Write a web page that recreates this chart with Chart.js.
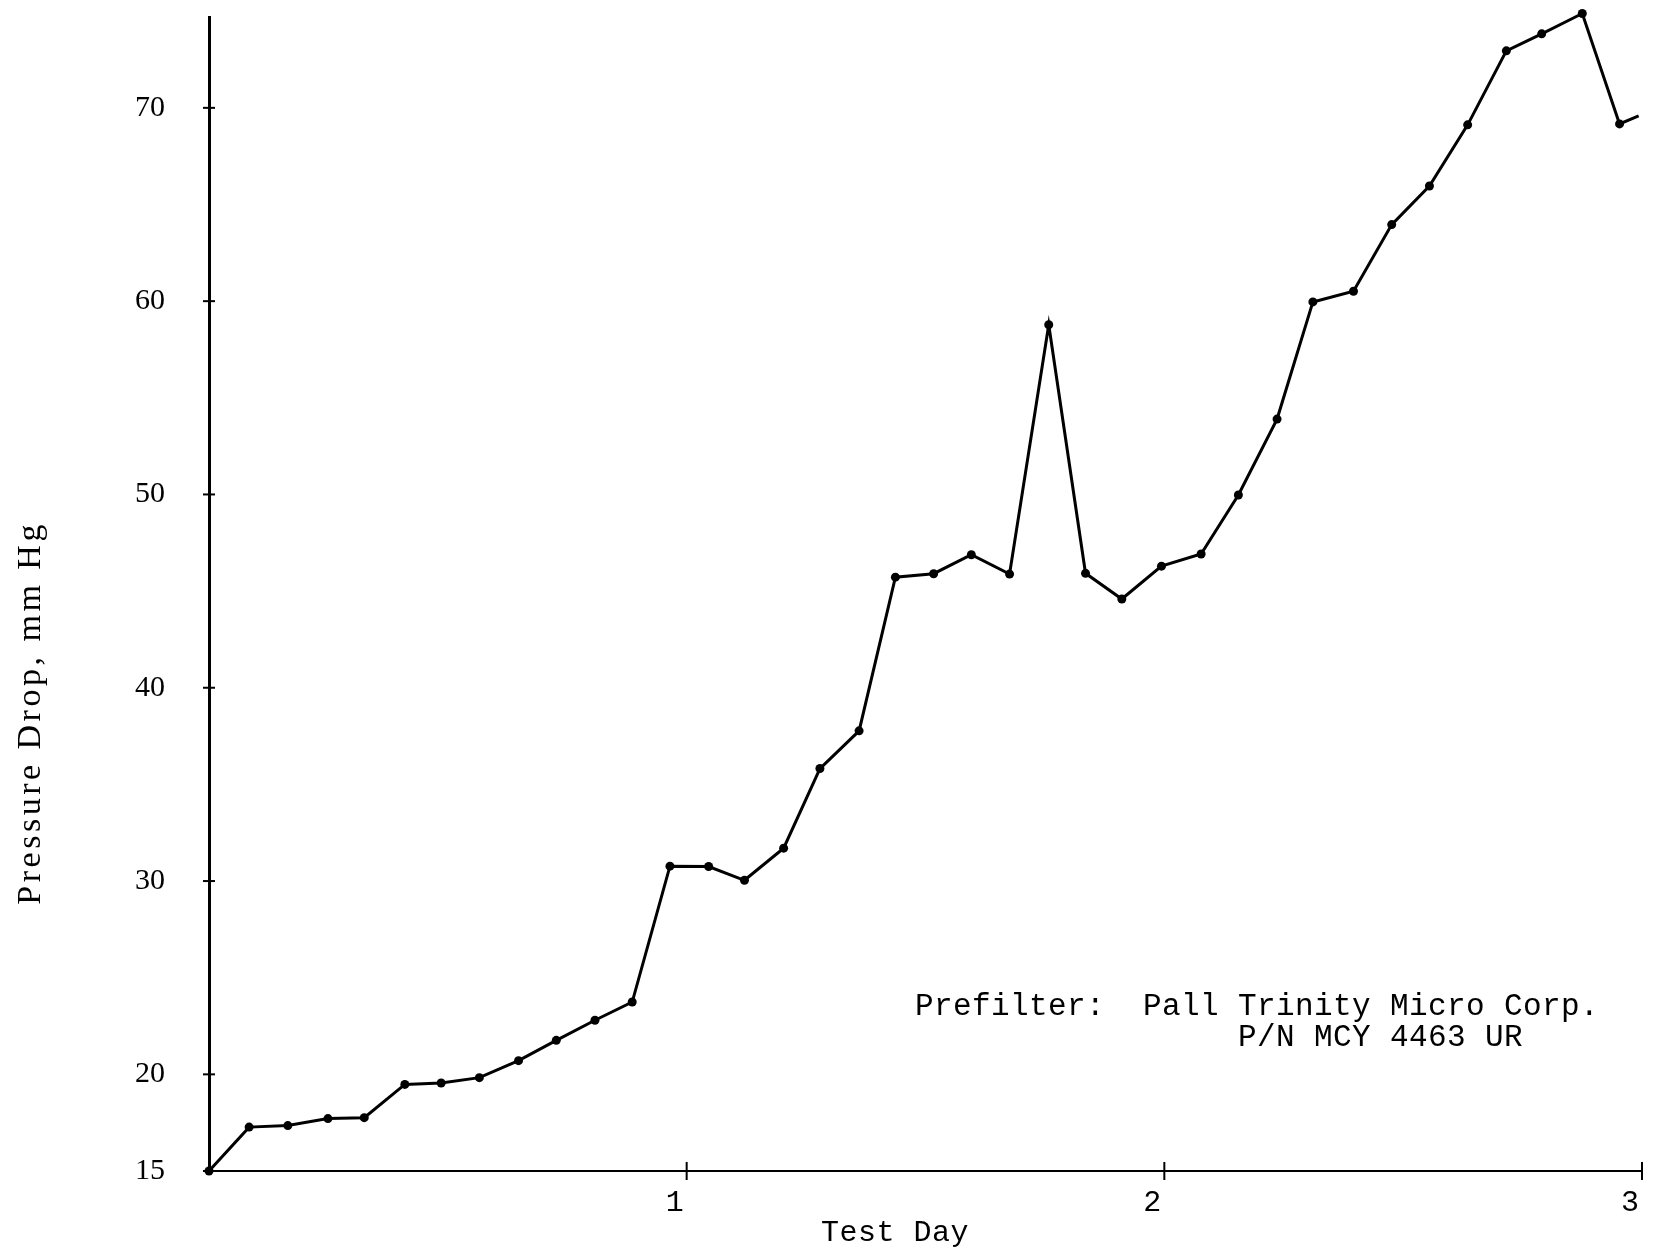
<!DOCTYPE html>
<html>
<head>
<meta charset="utf-8">
<script src="https://cdn.jsdelivr.net/npm/chart.js@4.4.0/dist/chart.umd.min.js"></script>
<style>
  html, body { margin: 0; padding: 0; background: #fff; }
  #wrap { width: 1655px; height: 1250px; }
</style>
</head>
<body>
<div id="wrap"><canvas id="c" width="1655" height="1250"></canvas></div>
<script>
// ---- data ----
const testDay = [0.000, 0.084, 0.165, 0.249, 0.325, 0.410, 0.486, 0.566, 0.648, 0.727,
                 0.808, 0.886, 0.965, 1.046, 1.121, 1.203, 1.279, 1.361, 1.437, 1.517,
                 1.596, 1.676, 1.758, 1.835, 1.911, 1.994, 2.077, 2.155, 2.236, 2.311,
                 2.396, 2.476, 2.555, 2.635, 2.716, 2.790, 2.875, 2.953, 2.993];
const pressureDrop = [15.00, 17.27, 17.35, 17.71, 17.76, 19.48, 19.55, 19.83, 20.71, 21.76,
                      22.80, 23.74, 30.77, 30.75, 30.04, 31.70, 35.82, 37.77, 45.72, 45.90,
                      46.88, 45.88, 58.78, 45.92, 44.59, 46.29, 46.92, 49.97, 53.90, 59.96,
                      60.51, 63.96, 65.96, 69.12, 72.95, 73.83, 74.88, 69.17, 69.59];
const yTickValues = [15, 20, 30, 40, 50, 60, 70];
const xTickValues = [1, 2, 3];
const xAxisTitle = 'Test Day';
const yAxisTitle = 'Pressure Drop, mm Hg';
const noteLines = ['Prefilter:  Pall Trinity Micro Corp.',
                   '                 P/N MCY 4463 UR'];

const points = testDay.map((d, i) => ({ x: d, y: pressureDrop[i] }));
const MONO = '"Liberation Mono", "DejaVu Sans Mono", monospace';
const SERIF = '"Liberation Serif", "DejaVu Serif", serif';

const decorPlugin = {
  id: 'decor',
  afterDraw(chart) {
    const ctx = chart.ctx;
    const xs = chart.scales.x, ys = chart.scales.y;
    const area = chart.chartArea;
    ctx.save();
    ctx.strokeStyle = '#000';
    ctx.fillStyle = '#000';
    // cross ticks on the y axis
    ctx.lineWidth = 2;
    yTickValues.forEach(v => {
      const py = ys.getPixelForValue(v);
      ctx.beginPath();
      ctx.moveTo(area.left - 6, py);
      ctx.lineTo(area.left + 6, py);
      ctx.stroke();
    });
    // cross ticks on the x axis
    xTickValues.forEach(v => {
      const px = xs.getPixelForValue(v);
      ctx.beginPath();
      ctx.moveTo(px, area.bottom - 9);
      ctx.lineTo(px, area.bottom + 9);
      ctx.stroke();
    });
    // y axis title
    ctx.save();
    ctx.font = '34px ' + SERIF;
    ctx.letterSpacing = '3.5px';
    ctx.textAlign = 'center';
    ctx.textBaseline = 'middle';
    ctx.translate(31, ys.getPixelForValue(38.7));
    ctx.rotate(-Math.PI / 2);
    ctx.fillText(yAxisTitle, 0, 0);
    ctx.restore();
    // x axis title
    ctx.save();
    ctx.font = '30px ' + MONO;
    ctx.letterSpacing = '0.5px';
    ctx.textAlign = 'center';
    ctx.textBaseline = 'alphabetic';
    ctx.fillText(xAxisTitle, xs.getPixelForValue(1.436), area.bottom + 70);
    ctx.restore();
    // annotation
    ctx.save();
    ctx.font = '31px ' + MONO;
    ctx.letterSpacing = '0.4px';
    ctx.textAlign = 'left';
    ctx.textBaseline = 'alphabetic';
    const ax = xs.getPixelForValue(1.478);
    const ay = ys.getPixelForValue(23.05);
    noteLines.forEach((t, i) => ctx.fillText(t, ax, ay + i * 31));
    ctx.restore();
    ctx.restore();
  }
};

new Chart(document.getElementById('c'), {
  type: 'line',
  data: {
    datasets: [{
      data: points,
      borderColor: '#000',
      borderWidth: 3,
      backgroundColor: '#000',
      pointBackgroundColor: '#000',
      pointBorderWidth: 0,
      pointRadius: c => (c.dataIndex === pressureDrop.length - 1 ? 0 : 4.5),
      tension: 0,
      fill: false,
      clip: false
    }]
  },
  options: {
    responsive: false,
    animation: false,
    layout: { padding: { top: 17, right: 13, bottom: 0, left: 0 } },
    plugins: { legend: { display: false }, tooltip: { enabled: false } },
    scales: {
      x: {
        type: 'linear',
        min: 0,
        max: 3,
        afterBuildTicks: s => { s.ticks = xTickValues.map(v => ({ value: v })); },
        afterFit: s => { s.height = 79; s.paddingLeft = 0; s.paddingRight = 0; },
        grid: { display: false, drawTicks: false },
        border: { display: true, color: '#000', width: 2 },
        ticks: {
          color: '#000',
          font: { family: MONO, size: 30 },
          padding: 14,
          labelOffset: -12,
          maxRotation: 0,
          autoSkip: false,
          callback: v => String(v)
        }
      },
      y: {
        type: 'linear',
        min: 15,
        max: 74.7,
        afterBuildTicks: s => { s.ticks = yTickValues.map(v => ({ value: v })); },
        afterFit: s => { s.width = 209; s.paddingTop = 0; s.paddingBottom = 0; },
        grid: { display: false, drawTicks: false },
        border: { display: true, color: '#000', width: 3 },
        ticks: {
          color: '#000',
          font: { family: SERIF, size: 30 },
          padding: 44,
          autoSkip: false,
          callback: v => String(v)
        }
      }
    }
  },
  plugins: [decorPlugin]
});
</script>
</body>
</html>
